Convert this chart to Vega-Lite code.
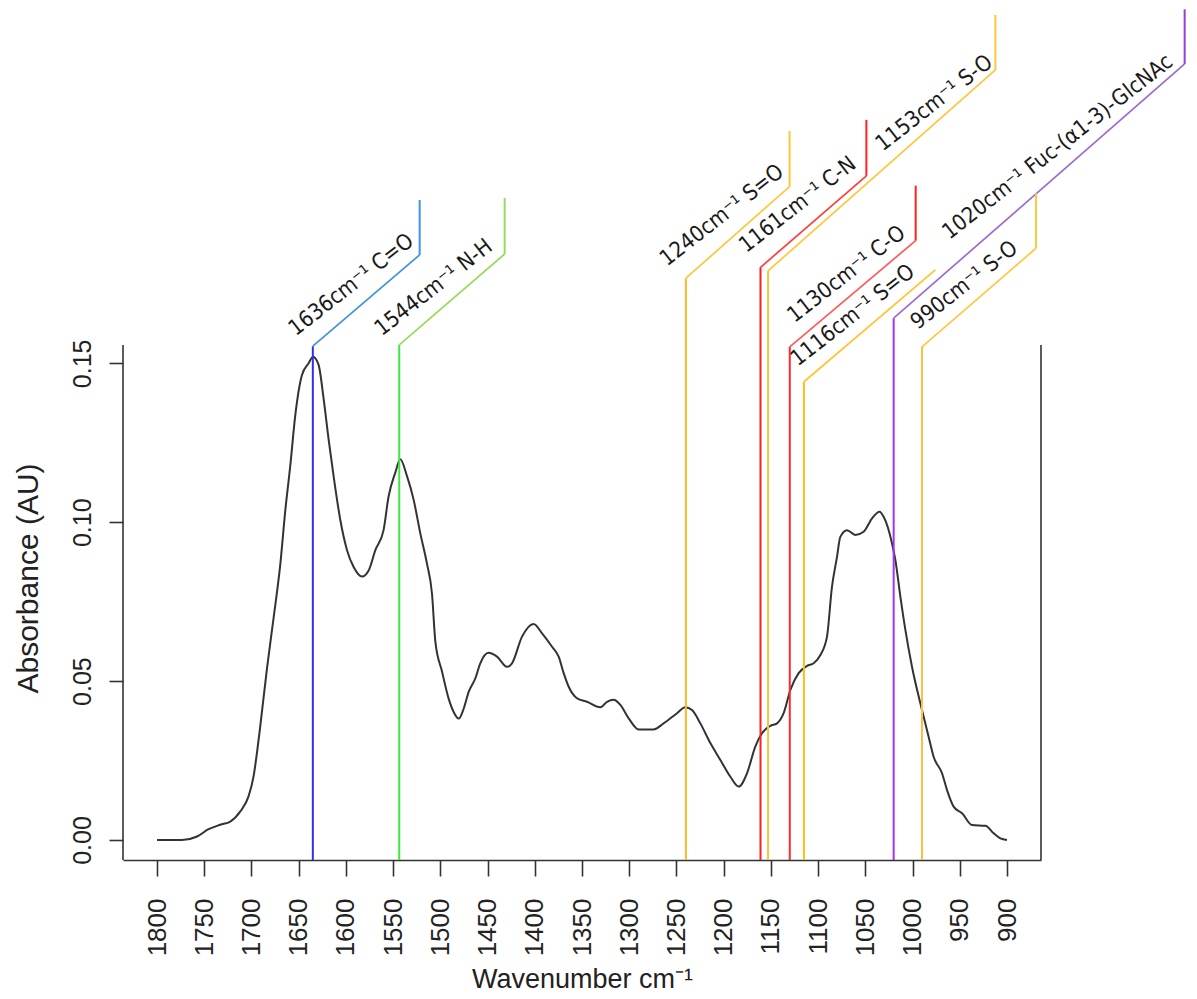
{
  "$schema": "https://vega.github.io/schema/vega-lite/v6.json",
  "width": 918,
  "height": 860,
  "autosize": {"type": "none"},
  "padding": {"left": 123, "top": 0, "right": 156, "bottom": 139},
  "background": "white",
  "config": {"view": {"stroke": null}},
  "datasets": {
    "spectrum": [
      {"w": 1800, "a": 0.0}, {"w": 1773.5, "a": 0.0}, {"w": 1757.6, "a": 0.0011}, {"w": 1745.4, "a": 0.0034},
      {"w": 1733, "a": 0.0048}, {"w": 1722.4, "a": 0.0058}, {"w": 1711.8, "a": 0.009}, {"w": 1703, "a": 0.0138},
      {"w": 1697.7, "a": 0.0201}, {"w": 1694.1, "a": 0.0276}, {"w": 1690.6, "a": 0.036}, {"w": 1683.5, "a": 0.0541},
      {"w": 1676.5, "a": 0.07}, {"w": 1669.4, "a": 0.0869}, {"w": 1664.1, "a": 0.1039}, {"w": 1658.9, "a": 0.1177},
      {"w": 1653.6, "a": 0.1336}, {"w": 1646.5, "a": 0.1463}, {"w": 1639.5, "a": 0.15}, {"w": 1634.8, "a": 0.1521},
      {"w": 1628.9, "a": 0.1495}, {"w": 1623.6, "a": 0.1389}, {"w": 1618.3, "a": 0.1261}, {"w": 1613.0, "a": 0.1145},
      {"w": 1605.9, "a": 0.1007}, {"w": 1598.8, "a": 0.0912}, {"w": 1591.8, "a": 0.0859}, {"w": 1582.9, "a": 0.0829},
      {"w": 1575.9, "a": 0.0848}, {"w": 1568.8, "a": 0.0912}, {"w": 1560.1, "a": 0.0975}, {"w": 1554.8, "a": 0.1081},
      {"w": 1547.7, "a": 0.1156}, {"w": 1542.4, "a": 0.1198}, {"w": 1535.3, "a": 0.1145}, {"w": 1528.3, "a": 0.1071},
      {"w": 1521.2, "a": 0.0965}, {"w": 1514.1, "a": 0.0869}, {"w": 1508.8, "a": 0.0774}, {"w": 1505.3, "a": 0.0625},
      {"w": 1498.2, "a": 0.053}, {"w": 1491.2, "a": 0.0445}, {"w": 1485.9, "a": 0.0403}, {"w": 1480.6, "a": 0.0382},
      {"w": 1475.3, "a": 0.0413}, {"w": 1470.0, "a": 0.0466}, {"w": 1462.9, "a": 0.0509}, {"w": 1457.7, "a": 0.0556},
      {"w": 1448.9, "a": 0.0589}, {"w": 1440.0, "a": 0.0577}, {"w": 1429.4, "a": 0.0545}, {"w": 1424.1, "a": 0.0556},
      {"w": 1413.5, "a": 0.064}, {"w": 1401.2, "a": 0.068}, {"w": 1392.3, "a": 0.065}, {"w": 1381.7, "a": 0.0608},
      {"w": 1374.7, "a": 0.0577}, {"w": 1369.4, "a": 0.0525}, {"w": 1364.2, "a": 0.0483}, {"w": 1355.3, "a": 0.0446},
      {"w": 1344.7, "a": 0.0435}, {"w": 1330.6, "a": 0.0418}, {"w": 1323.5, "a": 0.0435}, {"w": 1316.5, "a": 0.0441},
      {"w": 1309.4, "a": 0.0425}, {"w": 1300.6, "a": 0.0383}, {"w": 1290.0, "a": 0.0348}, {"w": 1274.2, "a": 0.0348},
      {"w": 1263.6, "a": 0.0367}, {"w": 1249.4, "a": 0.0399}, {"w": 1240.6, "a": 0.0418}, {"w": 1233.5, "a": 0.0409},
      {"w": 1224.7, "a": 0.0367}, {"w": 1214.1, "a": 0.0305}, {"w": 1203.5, "a": 0.0252}, {"w": 1192.9, "a": 0.0199},
      {"w": 1184.1, "a": 0.0168}, {"w": 1175.3, "a": 0.021}, {"w": 1166.5, "a": 0.0294}, {"w": 1159.4, "a": 0.0336},
      {"w": 1150.6, "a": 0.0359}, {"w": 1143.5, "a": 0.0367}, {"w": 1136.5, "a": 0.0399}, {"w": 1129.4, "a": 0.0472},
      {"w": 1120.6, "a": 0.0525}, {"w": 1111.7, "a": 0.0548}, {"w": 1104.7, "a": 0.0556}, {"w": 1097.6, "a": 0.0582},
      {"w": 1090.6, "a": 0.064}, {"w": 1085.3, "a": 0.0797}, {"w": 1080.0, "a": 0.0891}, {"w": 1076.5, "a": 0.0954},
      {"w": 1069.4, "a": 0.0975}, {"w": 1060.6, "a": 0.096}, {"w": 1051.8, "a": 0.097}, {"w": 1042.9, "a": 0.1012},
      {"w": 1034.9, "a": 0.1033}, {"w": 1030.6, "a": 0.1017}, {"w": 1021.8, "a": 0.0934}, {"w": 1018.2, "a": 0.0881},
      {"w": 1012.9, "a": 0.0766}, {"w": 1007.6, "a": 0.0661}, {"w": 1000.6, "a": 0.0545}, {"w": 990.0, "a": 0.0409},
      {"w": 983.0, "a": 0.0325}, {"w": 977.7, "a": 0.0262}, {"w": 968.8, "a": 0.021}, {"w": 963.5, "a": 0.0157},
      {"w": 956.5, "a": 0.0105}, {"w": 947.6, "a": 0.0084}, {"w": 937.0, "a": 0.0047}, {"w": 922.9, "a": 0.0045},
      {"w": 914.1, "a": 0.0021}, {"w": 907.0, "a": 0.0005}, {"w": 900, "a": 0.0}
    ],
    "ann": [
      {"id": "1636", "label": "1636cm⁻¹ C=O", "wn": 1635, "ky": 0.1554, "ux": 1521.9, "uy": 0.1841, "top": 0.2014, "lx": 1653, "ly": 0.1584},
      {"id": "1544", "label": "1544cm⁻¹ N-H", "wn": 1543.5, "ky": 0.1558, "ux": 1431.9, "uy": 0.1844, "top": 0.202, "lx": 1562, "ly": 0.1584},
      {"id": "1240", "label": "1240cm⁻¹ S=O", "wn": 1240, "ky": 0.1768, "ux": 1130.2, "uy": 0.2056, "top": 0.2231, "lx": 1260, "ly": 0.1804},
      {"id": "1161", "label": "1161cm⁻¹ C-N", "wn": 1161, "ky": 0.1802, "ux": 1048.9, "uy": 0.209, "top": 0.2266, "lx": 1176, "ly": 0.1846},
      {"id": "1153", "label": "1153cm⁻¹ S-O", "wn": 1153, "ky": 0.1791, "ux": 912.3, "uy": 0.2423, "top": 0.2596, "lx": 1031.5, "ly": 0.2166},
      {"id": "1130", "label": "1130cm⁻¹ C-O", "wn": 1130, "ky": 0.1552, "ux": 996.7, "uy": 0.1886, "top": 0.2059, "lx": 1125, "ly": 0.1626},
      {"id": "1116", "label": "1116cm⁻¹ S=O", "wn": 1115, "ky": 0.1442, "ux": 975.9, "uy": 0.1794, "top": 0.1794, "lx": 1121.5, "ly": 0.1489},
      {"id": "1020", "label": "1020cm⁻¹  Fuc-(α1-3)-GlcNAc", "wn": 1020, "ky": 0.1642, "ux": 711.9, "uy": 0.2442, "top": 0.2614, "lx": 961, "ly": 0.1888},
      {"id": "990", "label": "990cm⁻¹ S-O", "wn": 990, "ky": 0.1552, "ux": 869.3, "uy": 0.1862, "top": 0.2035, "lx": 994.5, "ly": 0.1605}
    ],
    "box": [
      {"side": "left", "bx": 1836, "b0": -0.00629, "b1": 0.1558},
      {"side": "right", "bx": 864, "b0": -0.00629, "b1": 0.1558}
    ]
  },
  "resolve": {"scale": {"color": "independent"}},
  "layer": [
    {
      "data": {"name": "spectrum"},
      "mark": {"type": "line", "color": "#333333", "strokeWidth": 2, "interpolate": "monotone"},
      "encoding": {
        "x": {
          "field": "w", "type": "quantitative",
          "scale": {"domain": [864, 1836], "reverse": true, "nice": false, "zero": false},
          "axis": {
            "values": [900, 950, 1000, 1050, 1100, 1150, 1200, 1250, 1300, 1350, 1400, 1450, 1500, 1550, 1600, 1650, 1700, 1750, 1800],
            "format": "d",
            "grid": false, "labelAngle": -90, "labelFont": "Liberation Sans", "labelFontSize": 26,
            "labelColor": "#222", "labelPadding": 22, "tickSize": 16, "tickWidth": 1.6, "tickColor": "#333",
            "domainColor": "#333", "domainWidth": 1.6, "labelOverlap": false,
            "title": "Wavenumber cm⁻¹", "titleFont": "Liberation Sans", "titleFontSize": 27,
            "titleFontWeight": "normal", "titleColor": "#222", "titlePadding": 11
          }
        },
        "y": {
          "field": "a", "type": "quantitative",
          "scale": {"domain": [-0.00629, 0.26432], "nice": false, "zero": false},
          "axis": {
            "values": [0, 0.05, 0.1, 0.15], "format": ".2f", "grid": false, "domain": false,
            "labelAngle": -90, "labelFont": "Liberation Sans", "labelFontSize": 25, "labelColor": "#222",
            "labelPadding": 14, "tickSize": 14, "tickWidth": 1.6, "tickColor": "#333",
            "title": "Absorbance (AU)", "titleFont": "Liberation Sans", "titleFontSize": 30,
            "titleFontWeight": "normal", "titleColor": "#222", "titleX": -95, "titleY": 578,
            "titleAlign": "center", "titleBaseline": "middle", "titleAngle": -90
          }
        }
      }
    },
    {
      "data": {"name": "box"},
      "mark": {"type": "rule", "color": "#333", "strokeWidth": 1.6},
      "encoding": {
        "x": {"field": "bx", "type": "quantitative"},
        "y": {"field": "b0", "type": "quantitative"},
        "y2": {"field": "b1"}
      }
    },
    {
      "data": {"name": "ann"},
      "mark": {"type": "rule", "strokeWidth": 2},
      "encoding": {
        "x": {"field": "wn", "type": "quantitative"},
        "y": {"field": "ky", "type": "quantitative"},
        "y2": {"datum": -0.00629},
        "color": {"field": "id", "type": "nominal", "legend": null,
          "scale": {"domain": ["1636", "1544", "1240", "1161", "1153", "1130", "1116", "1020", "990"],
                    "range": ["#2f2ff5", "#3ce83c", "#ffb820", "#ff2020", "#ffc040", "#ff2a2a", "#ffbe10", "#a332f5", "#ffbf45"]}}
      }
    },
    {
      "data": {"name": "ann"},
      "mark": {"type": "rule", "strokeWidth": 1.7},
      "encoding": {
        "x": {"field": "wn", "type": "quantitative"},
        "y": {"field": "ky", "type": "quantitative"},
        "x2": {"field": "ux"},
        "y2": {"field": "uy"},
        "color": {"field": "id", "type": "nominal", "legend": null,
          "scale": {"domain": ["1636", "1544", "1240", "1161", "1153", "1130", "1116", "1020", "990"],
                    "range": ["#3f93d9", "#9ad95e", "#ffc63a", "#ff3c3c", "#ffc63a", "#ff5a5a", "#ffc430", "#9b6bd1", "#ffc640"]}}
      }
    },
    {
      "data": {"name": "ann"},
      "mark": {"type": "rule", "strokeWidth": 2},
      "encoding": {
        "x": {"field": "ux", "type": "quantitative"},
        "y": {"field": "uy", "type": "quantitative"},
        "y2": {"field": "top"},
        "color": {"field": "id", "type": "nominal", "legend": null,
          "scale": {"domain": ["1636", "1544", "1240", "1161", "1153", "1130", "1116", "1020", "990"],
                    "range": ["#3f93d9", "#9ad95e", "#ffc63a", "#ff2020", "#ffc63a", "#ff2020", "#ffc430", "#8f40d8", "#ffc640"]}}
      }
    },
    {
      "data": {"name": "ann"},
      "mark": {"type": "text", "angle": -38, "align": "left", "baseline": "alphabetic", "font": "DejaVu Sans Condensed, DejaVu Sans", "fontSize": 22, "color": "#1a1a1a"},
      "encoding": {
        "x": {"field": "lx", "type": "quantitative"},
        "y": {"field": "ly", "type": "quantitative"},
        "text": {"field": "label"}
      }
    }
  ]
}
